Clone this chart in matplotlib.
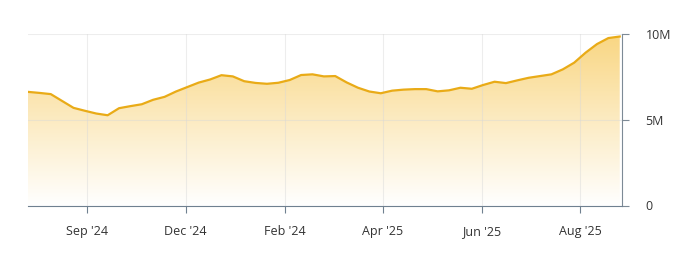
import matplotlib
matplotlib.use("Agg")
import matplotlib.pyplot as plt
import numpy as np
from matplotlib.colors import LinearSegmentedColormap

# weekly values, millions
values = [6.61, 6.55, 6.48, 6.08, 5.68, 5.51, 5.35, 5.25, 5.66, 5.78,
          5.89, 6.15, 6.32, 6.63, 6.89, 7.15, 7.33, 7.58, 7.51, 7.23,
          7.13, 7.08, 7.14, 7.30, 7.59, 7.63, 7.51, 7.53, 7.16, 6.85,
          6.63, 6.53, 6.68, 6.74, 6.77, 6.77, 6.64, 6.70, 6.85, 6.79,
          7.01, 7.20, 7.12, 7.28, 7.43, 7.53, 7.63, 7.92, 8.31, 8.89,
          9.39, 9.74, 9.83]
tick_pos = [5.2, 13.85, 22.55, 31.2, 39.9, 48.5]
tick_labels = ["Sep '24", "Dec '24", "Feb '24", "Apr '25", "Jun '25", "Aug '25"]
y_ticks = [0, 5, 10]
y_labels = ["0", "5M", "10M"]

plt.rcParams['font.family'] = ['Open Sans', 'DejaVu Sans']

fig = plt.figure(figsize=(7, 2.57), dpi=100)
ax = fig.add_axes([28/700, 1-205.5/257, 594/700, (205.5-33.6)/257])

x = np.arange(len(values))
y = np.array(values)

line_col = '#E9AB17'
cmap = LinearSegmentedColormap.from_list('g', ['#FFFFFF', '#FCEBC2', '#F9D682'])
grad = np.linspace(0, 1, 256).reshape(-1, 1)
poly = ax.fill_between(x, 0, y, color='none', lw=0)
img = ax.imshow(grad, cmap=cmap, aspect='auto', origin='lower',
                extent=[x[0], x[-1], 0, 10], zorder=1)
img.set_clip_path(poly.get_paths()[0], transform=ax.transData)
ax.plot(x, y, color=line_col, lw=1.6, zorder=3, solid_joinstyle='round')

ax.set_xlim(0, 52.2)
ax.set_ylim(0, 10)

ax.set_xticks(tick_pos)
ax.set_xticklabels(tick_labels, fontsize=9, color='#333333')
ax.yaxis.tick_right()
ax.set_yticks(y_ticks)
ax.set_yticklabels(y_labels, fontsize=9, color='#333333')

ax.grid(True, color='#d8d8d8', lw=0.8, alpha=0.45, zorder=2)

for s in ['left', 'top']:
    ax.spines[s].set_visible(False)
ax.spines['right'].set_color('#7d8a96')
ax.spines['bottom'].set_color('#6f8090')
for s in ['right', 'bottom']:
    ax.spines[s].set_zorder(4)
ax.tick_params(axis='x', length=5, color='#6f8090', pad=9)
ax.tick_params(axis='y', length=5, color='#7d8a96', pad=12)

fig.savefig('out.png', dpi=100)
